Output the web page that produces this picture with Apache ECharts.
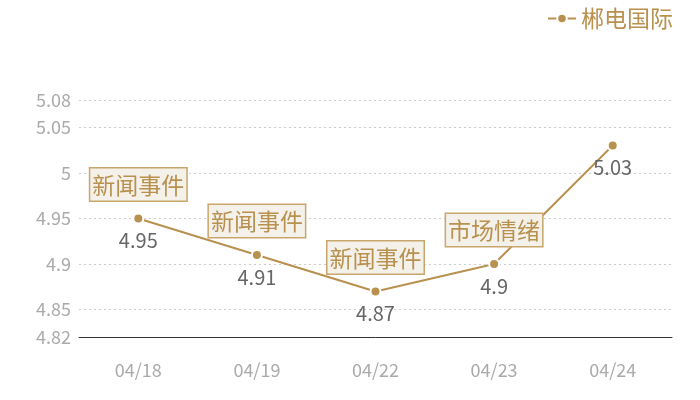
<!DOCTYPE html>
<html><head><meta charset="utf-8">
<script src="https://cdn.jsdelivr.net/npm/echarts@6/dist/echarts.min.js"></script>
<style>html,body{margin:0;padding:0;background:#fff}#c{width:700px;height:400px}</style>
</head><body><div id="c"></div>
<script>
var categories = ['04/18', '04/19', '04/22', '04/23', '04/24'];
var values = [4.95, 4.91, 4.87, 4.9, 5.03];
var eventLabels = ['新闻事件', '新闻事件', '新闻事件', '市场情绪', ''];
var seriesName = '郴电国际';

var gold = '#b8914f';
var font = '"Noto Sans CJK SC", "Noto Sans", sans-serif';
var marks = [];
for (var i = 0; i < categories.length; i++) {
  if (eventLabels[i]) marks.push({ coord: [categories[i], values[i]], value: eventLabels[i] });
}
var chart = echarts.init(document.getElementById('c'));
chart.setOption({
  animation: false,
  textStyle: { fontFamily: font },
  legend: {
    right: 22, top: 2, itemWidth: 28, itemHeight: 12, itemGap: 6,
    textStyle: { color: gold, fontSize: 23, fontFamily: font },
    data: [seriesName]
  },
  grid: { left: 79, right: 28, top: 100, bottom: 63 },
  xAxis: {
    type: 'category', data: categories, boundaryGap: true,
    axisLine: { lineStyle: { color: '#333', width: 1 } },
    axisTick: { show: false },
    axisLabel: { color: '#aaa', fontSize: 18, margin: 24, fontFamily: font }
  },
  yAxis: {
    type: 'value', min: 4.82, max: 5.08,
    axisLine: { show: false }, axisTick: { show: false },
    axisLabel: { color: '#aaa', fontSize: 18, margin: 8, fontFamily: font },
    splitLine: { lineStyle: { color: '#ccc', type: [2, 3] } }
  },
  series: [{
    name: seriesName, type: 'line', data: values,
    symbol: 'circle', symbolSize: 10,
    itemStyle: { color: gold, borderColor: '#fff', borderWidth: 2 },
    lineStyle: { color: gold, width: 2 },
    label: { show: true, position: 'bottom', distance: 6, color: '#666', fontSize: 20, fontFamily: font },
    markPoint: {
      symbol: 'rect', symbolSize: 0,
      label: {
        show: true, position: 'top', distance: 18,
        formatter: function (p) { return p.value; },
        color: gold, fontSize: 23, fontFamily: font,
        backgroundColor: '#f4f0ea', borderColor: '#c9a66b', borderWidth: 1.5,
        padding: [1, 2, 0, 2], lineHeight: 31
      },
      data: marks
    }
  }]
});
</script></body></html>
